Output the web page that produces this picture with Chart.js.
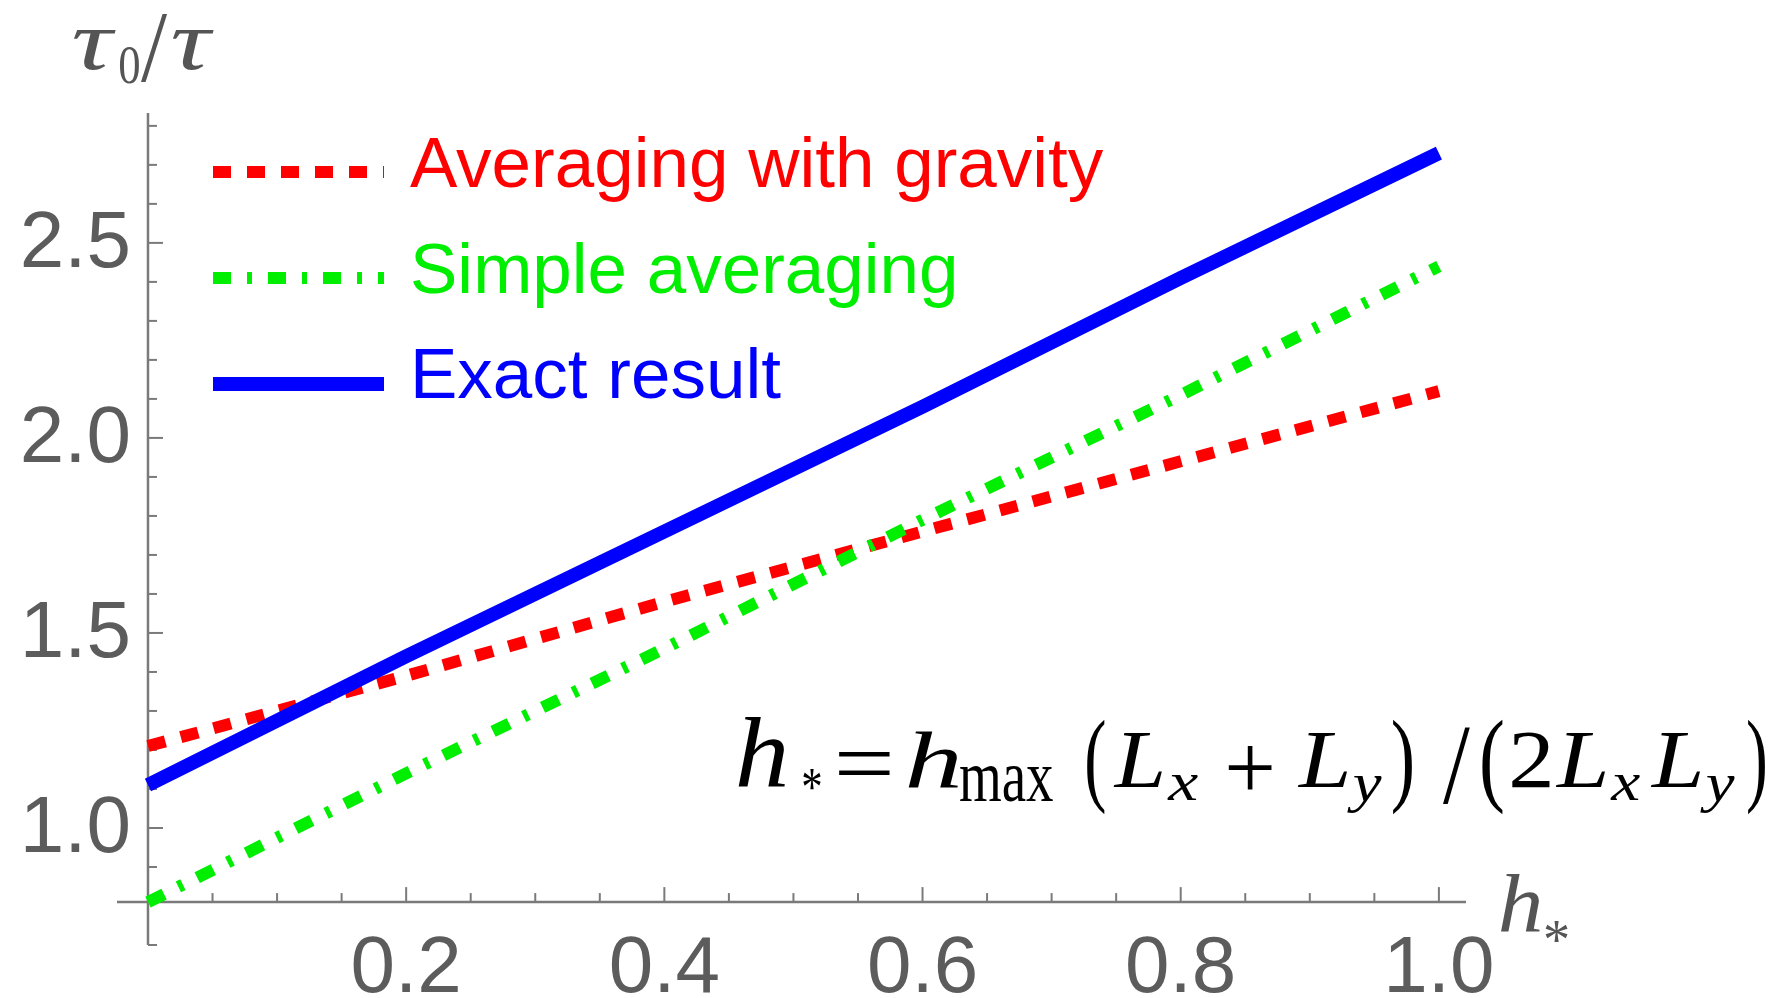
<!DOCTYPE html>
<html>
<head>
<meta charset="utf-8">
<script src="https://cdn.jsdelivr.net/npm/chart.js@4"></script>
<style>
  html, body { margin: 0; padding: 0; background: #fff; }
  #wrap { width: 1779px; height: 998px; position: relative; }
</style>
</head>
<body>
<div id="wrap"><canvas id="tauChart"></canvas></div>
<script>
const hStar = [0, 0.2, 0.4, 0.6, 0.8, 1.0];
// tau0/tau for each method
const exactResult = [1.11, 1.44, 1.76, 2.08, 2.41, 2.73];
const simpleAveraging = [0.81, 1.14, 1.46, 1.79, 2.11, 2.44];
const gravityAveraging = [1.21, 1.39, 1.58, 1.76, 1.94, 2.12];

const xTickLabels = ['0.2', '0.4', '0.6', '0.8', '1.0'];
const yTickLabels = ['1.0', '1.5', '2.0', '2.5'];

const AXIS_CROSS_Y = 0.81;   // where the h* axis meets the tau axis
const GREY = '#7a7a7a';
const LABEL_GREY = '#5c5c5c';
const SERIF = '"Liberation Serif", "Times New Roman", serif';

function pts(ys) {
  return hStar.map((x, i) => ({ x: x, y: ys[i] }));
}

// Legend entries (drawn by hand so the dash styles match)
const legendItems = [
  { text: 'Averaging with gravity', color: '#ff0000', dash: [18, 16], width: 12, y: 172, base: 187 },
  { text: 'Simple averaging', color: '#00ee00', dash: [18, 16, 5, 16], width: 12, y: 278, base: 293 },
  { text: 'Exact result', color: '#0000ff', dash: [], width: 14, y: 384, base: 398 }
];

// glyph boxes: [text, font, left, right, top, bottom]
const yTitle = [
  ['τ', 'italic 80px ' + SERIF, 73, 117, 30, 70],
  ['0', '80px ' + SERIF, 120, 139, 46, 84],
  ['/', '80px ' + SERIF, 141, 168, 14, 82],
  ['τ', 'italic 80px ' + SERIF, 172, 215, 30, 70]
];
const xTitle = [
  ['h', 'italic 80px ' + SERIF, 1500, 1540, 873, 932],
  ['*', '80px ' + SERIF, 1545, 1568, 922, 943]
];
const formula = [
  ['h', 'italic 100px ' + SERIF, 738, 785, 718, 787],
  ['*', '100px ' + SERIF, 803, 821, 770, 790],
  ['=', '100px ' + SERIF, 838, 890, 752, 775],
  ['h', 'italic 100px ' + SERIF, 908, 958, 732, 788],
  ['max', '100px ' + SERIF, 960, 1053, 767, 802],
  ['(', '100px ' + SERIF, 1087, 1105, 720, 815],
  ['L', 'italic 100px ' + SERIF, 1113, 1162, 733, 788],
  ['x', 'italic 100px ' + SERIF, 1167, 1198, 775, 800],
  ['+', '100px ' + SERIF, 1228, 1272, 746, 790],
  ['L', 'italic 100px ' + SERIF, 1297, 1347, 733, 788],
  ['y', 'italic 100px ' + SERIF, 1347, 1382, 775, 813],
  [')', '100px ' + SERIF, 1393, 1412, 720, 815],
  ['/', '100px ' + SERIF, 1443, 1470, 728, 805],
  ['(', '100px ' + SERIF, 1482, 1503, 720, 815],
  ['2', '100px ' + SERIF, 1512, 1550, 733, 788],
  ['L', 'italic 100px ' + SERIF, 1555, 1605, 733, 788],
  ['x', 'italic 100px ' + SERIF, 1610, 1640, 775, 800],
  ['L', 'italic 100px ' + SERIF, 1650, 1700, 733, 788],
  ['y', 'italic 100px ' + SERIF, 1700, 1735, 775, 813],
  [')', '100px ' + SERIF, 1748, 1765, 720, 815]
];

// stretch a glyph so its ink fills the given box
function fitGlyph(ctx, [text, font, l, r, t, b]) {
  ctx.font = font;
  const m = ctx.measureText(text);
  const w = m.actualBoundingBoxLeft + m.actualBoundingBoxRight;
  const h = m.actualBoundingBoxAscent + m.actualBoundingBoxDescent;
  const sx = (r - l) / w, sy = (b - t) / h;
  ctx.save();
  ctx.translate(l + m.actualBoundingBoxLeft * sx, t + m.actualBoundingBoxAscent * sy);
  ctx.scale(sx, sy);
  ctx.textAlign = 'left';
  ctx.textBaseline = 'alphabetic';
  ctx.fillText(text, 0, 0);
  ctx.restore();
}

// Axes, ticks and labels in the Mathematica look
const axesPlugin = {
  id: 'mmaAxes',
  beforeDatasetsDraw(chart) {
    const { ctx, scales: { x, y }, chartArea } = chart;
    const x0 = x.getPixelForValue(0);
    const yc = y.getPixelForValue(AXIS_CROSS_Y);
    ctx.save();
    ctx.strokeStyle = GREY;
    ctx.lineWidth = 2.5;
    ctx.beginPath();
    ctx.moveTo(chartArea.left, yc);
    ctx.lineTo(chartArea.right, yc);
    ctx.moveTo(x0, chartArea.top);
    ctx.lineTo(x0, chartArea.bottom);
    ctx.stroke();

    ctx.lineWidth = 2;
    // x ticks every 0.05, major every 0.2
    for (let i = 1; i <= 20; i++) {
      const px = x.getPixelForValue(i * 0.05);
      const len = i % 4 === 0 ? 15 : 9;
      ctx.beginPath();
      ctx.moveTo(px, yc);
      ctx.lineTo(px, yc - len);
      ctx.stroke();
    }
    // y ticks every 0.1, major every 0.5
    for (let i = 7; i <= 28; i++) {
      if (i === 8) continue;
      const py = y.getPixelForValue(i / 10);
      const len = i % 5 === 0 ? 15 : 9;
      ctx.beginPath();
      ctx.moveTo(x0, py);
      ctx.lineTo(x0 + len, py);
      ctx.stroke();
    }

    // tick labels
    ctx.fillStyle = LABEL_GREY;
    ctx.font = '80px "Liberation Sans", Arial, sans-serif';
    ctx.textAlign = 'center';
    ctx.textBaseline = 'alphabetic';
    xTickLabels.forEach(t => {
      ctx.fillText(t, x.getPixelForValue(parseFloat(t)), yc + 90);
    });
    ctx.textAlign = 'right';
    ctx.textBaseline = 'middle';
    yTickLabels.forEach(t => {
      ctx.fillText(t, x0 - 17, y.getPixelForValue(parseFloat(t)) + 2);
    });
    ctx.restore();
  },
  afterDraw(chart) {
    const ctx = chart.ctx;
    ctx.save();

    // legend
    legendItems.forEach(item => {
      ctx.strokeStyle = item.color;
      ctx.lineWidth = item.width;
      ctx.lineCap = 'butt';
      ctx.setLineDash(item.dash);
      ctx.beginPath();
      ctx.moveTo(213, item.y);
      ctx.lineTo(384, item.y);
      ctx.stroke();
      ctx.setLineDash([]);
      ctx.fillStyle = item.color;
      ctx.font = '71px "Liberation Sans", Arial, sans-serif';
      ctx.textAlign = 'left';
      ctx.textBaseline = 'alphabetic';
      ctx.fillText(item.text, 410, item.base);
    });

    // axis labels
    ctx.fillStyle = '#555';
    yTitle.forEach(g => fitGlyph(ctx, g));
    xTitle.forEach(g => fitGlyph(ctx, g));

    // formula
    ctx.fillStyle = '#000';
    formula.forEach(g => fitGlyph(ctx, g));
    ctx.restore();
  }
};

new Chart(document.getElementById('tauChart'), {
  type: 'line',
  data: {
    datasets: [
      {
        label: 'Exact result',
        data: pts(exactResult),
        borderColor: '#0000ff',
        borderWidth: 14,
        pointRadius: 0,
        tension: 0
      },
      {
        label: 'Simple averaging',
        data: pts(simpleAveraging),
        borderColor: '#00ee00',
        borderWidth: 12,
        borderDash: [18, 16, 5, 16],
        borderCapStyle: 'butt',
        pointRadius: 0,
        tension: 0
      },
      {
        label: 'Averaging with gravity',
        data: pts(gravityAveraging),
        borderColor: '#ff0000',
        borderWidth: 12,
        borderDash: [18, 16],
        borderCapStyle: 'butt',
        pointRadius: 0,
        tension: 0
      }
    ]
  },
  options: {
    responsive: true,
    maintainAspectRatio: false,
    animation: false,
    layout: { padding: { left: 117, right: 313, top: 113, bottom: 53 } },
    plugins: {
      legend: { display: false },
      tooltip: { enabled: false }
    },
    scales: {
      x: { type: 'linear', min: -0.024, max: 1.021, display: false },
      y: { type: 'linear', min: 0.70, max: 2.833, display: false }
    }
  },
  plugins: [axesPlugin]
});
</script>
</body>
</html>
